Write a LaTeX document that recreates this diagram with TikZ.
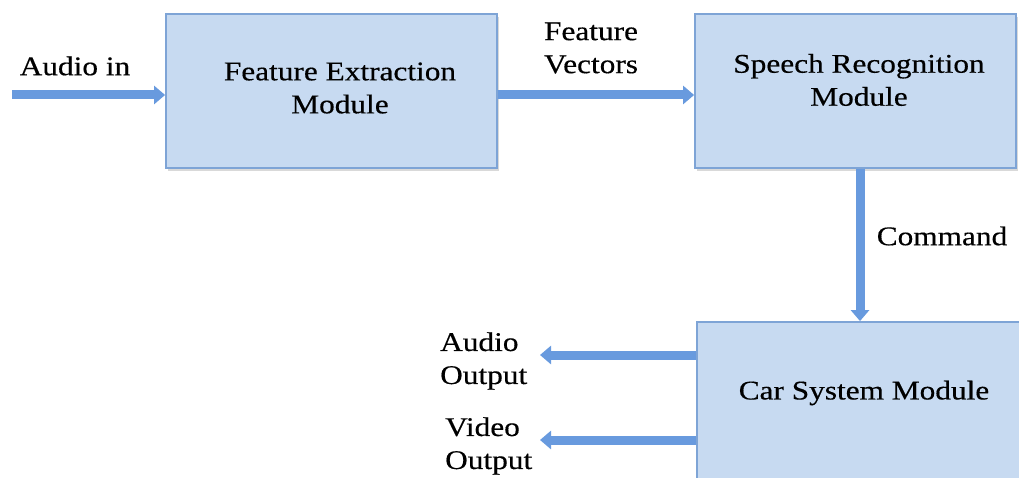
\documentclass[tikz,border=0pt]{standalone}
\usepackage{fontspec}
\setmainfont[FakeStretch=1.16,FakeBold=0.4]{Liberation Serif}
\usetikzlibrary{arrows.meta,shadows}
\definecolor{boxfill}{RGB}{199,218,241}
\definecolor{boxline}{RGB}{126,164,214}
\definecolor{arrowc}{RGB}{104,154,222}
\tikzset{
  modbox/.style={draw=boxline, line width=1.8pt, fill=boxfill, inner sep=0pt,
    drop shadow={opacity=0.3, shadow xshift=2pt, shadow yshift=-3pt}},
  lbl/.style={font=\fontsize{27}{33}\selectfont, inner sep=0pt, align=center},
  lbll/.style={font=\fontsize{27}{33}\selectfont, inner sep=0pt, align=left, anchor=west},
  flow/.style={draw=arrowc, line width=9pt, -{Triangle[length=11pt,width=18pt]}}
}
\begin{document}
\begin{tikzpicture}[x=1pt,y=-1pt]
\useasboundingbox (0,0) rectangle (1019,478);
\clip (0,0) rectangle (1019,478);
% boxes
\node[modbox, minimum width=331pt, minimum height=154pt] (FE) at (331.5,91) {};
\node[modbox, minimum width=321pt, minimum height=154pt] (SR) at (855.5,91) {};
\node[modbox, minimum width=340pt, minimum height=170pt] (CS) at (867,407) {};
% box texts
\node[lbl] (fet) at (340,88) {Feature Extraction\\Module};
\node[lbl] (srt) at (859,80) {Speech Recognition\\Module};
\node[lbl] (cst) at (864,393) {Car System Module};
% labels
\node[lbl] (ain) at (75,66) {Audio in};
\node[lbl] (fv) at (591,48) {Feature\\Vectors};
\node[lbl] (cmd) at (942,236) {Command};
\node[lbll] (ao) at (440,361) {Audio\\Output};
\node[lbll] (vo) at (445,446) {Video\\Output};
% connector coordinates
\coordinate (ainS) at (12,95);
\coordinate (cmdx) at (860,0);
\coordinate (aoE) at (540,355);
\coordinate (voE) at (540,440);
% connectors
\draw[flow] (ainS) -- (ainS -| FE.west);
\draw[flow] (FE.east |- ainS) -- (SR.west |- ainS);
\draw[flow] (SR.south -| cmdx) -- (CS.north -| cmdx);
\draw[flow] (CS.west |- aoE) -- (aoE);
\draw[flow] (CS.west |- voE) -- (voE);
\end{tikzpicture}
\end{document}
